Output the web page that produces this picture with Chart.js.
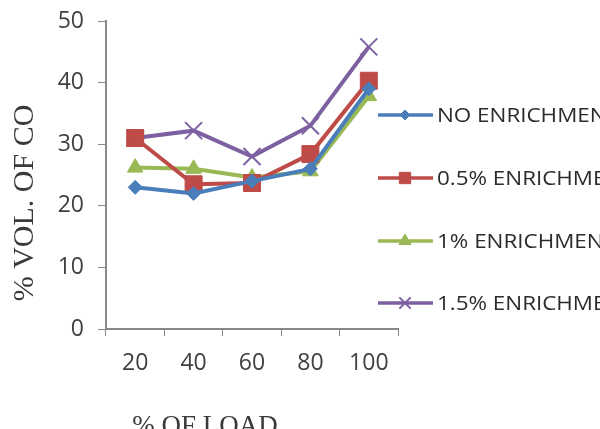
<!DOCTYPE html>
<html>
<head>
<meta charset="utf-8">
<script src="https://cdn.jsdelivr.net/npm/chart.js@4"></script>
<style>
  html, body { margin: 0; padding: 0; background: #fff; }
  #wrap { width: 600px; height: 429px; position: relative; overflow: hidden; }
</style>
</head>
<body>
<div id="wrap"><canvas id="c" width="600" height="429"></canvas></div>
<script>
// Engine load (%) on the x axis
const loads = ['20', '40', '60', '80', '100'];

// % volume of CO for each enrichment level
const noEnrichment   = [23, 22, 24, 26, 39];
const halfPctEnrich  = [31, 23.5, 23.7, 28.4, 40.3];
const onePctEnrich   = [26.2, 26, 24.6, 25.6, 37.8];
const oneHalfPctEnr  = [31, 32.2, 28, 33, 45.8];

const seriesNames = ['NO ENRICHMENT', '0.5% ENRICHMENT', '1% ENRICHMENT', '1.5% ENRICHMENT'];

const yTicks = [0, 10, 20, 30, 40, 50];
const xTitle = '% OF LOAD';
const yTitle = '% VOL. OF CO';

const CHART_LEFT = 106, CHART_TOP = 21, CHART_RIGHT = 398, CHART_BOTTOM = 329;
const W = 600, H = 429;

const colors = ['#4a7ebb', '#be4b48', '#98b954', '#7d60a0'];
const styles = ['rectRot', 'rect', 'triangle', 'crossRot'];
const radii = [7, 12, 9, 12];
const legendRadii = [5, 8, 7, 8];

function makeDataset(i, data) {
  return {
    label: seriesNames[i],
    data: data,
    borderColor: colors[i],
    backgroundColor: colors[i],
    pointBackgroundColor: colors[i],
    pointBorderColor: colors[i],
    pointStyle: styles[i],
    pointRadius: radii[i],
    pointBorderWidth: styles[i] === 'crossRot' ? 2 : 1,
    borderWidth: 4,
    tension: 0,
    fill: false
  };
}

// Side legend and axis titles drawn on the canvas
const decor = {
  id: 'decor',
  afterDraw(chart) {
    const ctx = chart.ctx;
    ctx.save();
    const rowY = [115, 178, 241, 303];
    chart.data.datasets.forEach((ds, i) => {
      const y = rowY[i];
      ctx.strokeStyle = ds.borderColor;
      ctx.fillStyle = ds.borderColor;
      ctx.lineWidth = 3.5;
      ctx.beginPath();
      ctx.moveTo(378, y);
      ctx.lineTo(433, y);
      ctx.stroke();
      ctx.lineWidth = ds.pointBorderWidth;
      Chart.helpers.drawPoint(ctx, {
        pointStyle: ds.pointStyle,
        radius: legendRadii[i],
        borderWidth: ds.pointBorderWidth,
        rotation: 0
      }, 405, y);
      ctx.fillStyle = '#2b2b2b';
      ctx.font = '20px "Open Sans", sans-serif';
      ctx.textAlign = 'left';
      ctx.textBaseline = 'middle';
      ctx.save();
      ctx.translate(437, y + 1);
      ctx.scale(1.12, 1);
      ctx.fillText(ds.label, 0, 0);
      ctx.restore();
    });
    // axis titles
    ctx.fillStyle = '#3a3a3a';
    ctx.textAlign = 'center';
    ctx.textBaseline = 'alphabetic';
    ctx.font = '27px "Liberation Serif", serif';
    ctx.fillText(xTitle, 205, 434);
    ctx.translate(33, 203);
    ctx.rotate(-Math.PI / 2);
    ctx.font = '30px "Liberation Serif", serif';
    ctx.fillText(yTitle, 0, 0);
    ctx.restore();
  }
};

new Chart(document.getElementById('c'), {
  type: 'line',
  data: {
    labels: loads,
    datasets: [
      makeDataset(0, noEnrichment),
      makeDataset(1, halfPctEnrich),
      makeDataset(2, onePctEnrich),
      makeDataset(3, oneHalfPctEnr)
    ]
  },
  options: {
    responsive: false,
    animation: false,
    devicePixelRatio: 1,
    layout: { padding: { left: 0, top: CHART_TOP, right: W - CHART_RIGHT, bottom: 0 } },
    plugins: { legend: { display: false }, tooltip: { enabled: false } },
    scales: {
      x: {
        type: 'category',
        offset: true,
        afterFit(scale) {
          scale.height = H - CHART_BOTTOM;
          scale.paddingLeft = 0; scale.paddingRight = 0;
        },
        border: { display: true, color: '#888', width: 2 },
        grid: { display: true, drawOnChartArea: false, offset: true, tickLength: 7, color: '#888', lineWidth: 1 },
        ticks: { color: '#404040', font: { family: '"Open Sans", sans-serif', size: 23 }, padding: 14, maxRotation: 0 }
      },
      y: {
        min: 0,
        max: 50,
        afterFit(scale) {
          scale.width = CHART_LEFT;
          scale.paddingTop = 0; scale.paddingBottom = 0;
        },
        afterBuildTicks(scale) { scale.ticks = yTicks.map(v => ({ value: v })); },
        border: { display: true, color: '#888', width: 2 },
        grid: { display: true, drawOnChartArea: false, tickLength: 8, color: '#888', lineWidth: 1 },
        ticks: { color: '#404040', font: { family: '"Open Sans", sans-serif', size: 23 }, padding: 14 }
      }
    }
  },
  plugins: [decor]
});
</script>
</body>
</html>
